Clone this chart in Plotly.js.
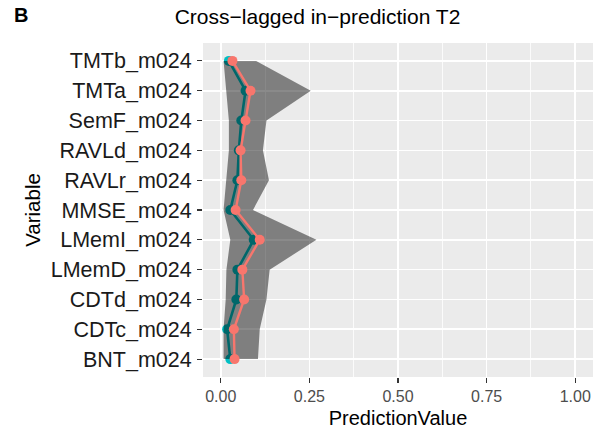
<!DOCTYPE html>
<html>
<head>
<meta charset="utf-8">
<script src="https://cdn.plot.ly/plotly-3.0.1.min.js"></script>
<style>html,body{margin:0;padding:0;background:#fff;}#chart{width:602px;height:432px;}</style>
</head>
<body>
<div id="chart"></div>
<script>
// Categories listed top to bottom as in the picture
const variables = ["TMTb_m024","TMTa_m024","SemF_m024","RAVLd_m024","RAVLr_m024","MMSE_m024","LMemI_m024","LMemD_m024","CDTd_m024","CDTc_m024","BNT_m024"];
const tealValues = [0.023,0.070,0.058,0.051,0.047,0.027,0.093,0.047,0.044,0.018,0.027];
const redValues  = [0.033,0.084,0.070,0.056,0.058,0.042,0.110,0.061,0.066,0.037,0.039];
const ribbonLower = [0.008,0.016,0.023,0.023,0.016,0.008,0.027,0.016,0.014,0.008,0.008];
const ribbonUpper = [0.100,0.254,0.129,0.119,0.136,0.091,0.270,0.138,0.129,0.110,0.105];
const xTickVals = [0,0.25,0.5,0.75,1];
const xTickText = ["0.00","0.25","0.50","0.75","1.00"];

const catOrder = variables.slice().reverse();

const teal = {
  x: tealValues, y: variables, type: 'scatter', mode: 'lines+markers',
  line: {color: '#00BFC4', width: 2.6}, marker: {color: '#00BFC4', size: 10},
  showlegend: false, hoverinfo: 'skip'
};
const ribbon = {
  x: ribbonLower.concat(ribbonUpper.slice().reverse()),
  y: variables.concat(variables.slice().reverse()),
  type: 'scatter', mode: 'lines', fill: 'toself',
  fillcolor: 'rgba(0,0,0,0.46)', line: {width: 0, color: 'rgba(0,0,0,0)'},
  showlegend: false, hoverinfo: 'skip'
};
const red = {
  x: redValues, y: variables, type: 'scatter', mode: 'lines+markers',
  line: {color: '#F8766D', width: 2.4}, marker: {color: '#F8766D', size: 10},
  showlegend: false, hoverinfo: 'skip'
};

const layout = {
  width: 602, height: 432,
  margin: {l: 203, r: 9, t: 43, b: 55},
  paper_bgcolor: '#ffffff', plot_bgcolor: '#EBEBEB',
  font: {family: 'Liberation Sans, Arial, sans-serif', color: '#000'},
  showlegend: false,
  title: {text: 'Cross\u2212lagged in\u2212prediction T2', font: {size: 21, color: '#000'},
          x: 317.5/602, xanchor: 'center', xref: 'container', y: 1 - 17/432, yanchor: 'middle', yref: 'container'},
  xaxis: {
    range: [-0.05, 1.05], tickvals: xTickVals, ticktext: xTickText,
    showgrid: true, gridcolor: '#ffffff', gridwidth: 1.7, zeroline: false,
    ticks: 'outside', ticklen: 5, tickwidth: 1.2, tickcolor: '#333333',
    tickfont: {size: 16, color: '#4D4D4D'},
    minor: {tickvals: [-0.125,0.125,0.375,0.625,0.875], showgrid: true, gridcolor: '#ffffff', gridwidth: 0.8, ticks: ''},
    title: {text: 'PredictionValue', font: {size: 20, color: '#000'}, standoff: 6},
    showline: false, fixedrange: true
  },
  yaxis: {
    type: 'category', categoryorder: 'array', categoryarray: catOrder,
    range: [-0.6, 10.6],
    showgrid: true, gridcolor: '#ffffff', gridwidth: 1.7, zeroline: false,
    ticks: 'outside', ticklen: 5, tickwidth: 1.2, tickcolor: '#333333',
    tickfont: {size: 21.5, color: '#1a1a1a'}, ticklabelstandoff: 1,
    title: {text: 'Variable', font: {size: 20.5, color: '#000'}, standoff: 4},
    showline: false, fixedrange: true
  },
  annotations: [{
    text: '<b>B</b>', xref: 'paper', yref: 'paper', showarrow: false,
    x: -191/390, y: 1 + 28/334, xanchor: 'left', yanchor: 'middle',
    font: {size: 20, color: '#000'}
  }]
};

Plotly.newPlot('chart', [teal, ribbon, red], layout, {displayModeBar: false, staticPlot: true});
</script>
</body>
</html>
